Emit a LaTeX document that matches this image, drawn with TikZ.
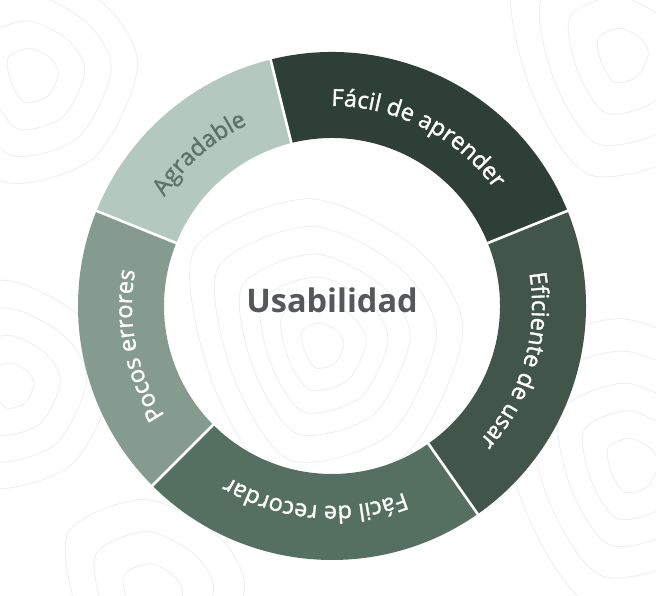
\documentclass[tikz,border=0pt]{standalone}
\usepackage{fontspec}
\setmainfont{Open Sans}
\newfontfamily\lblfont[FakeBold=1.4]{Open Sans}
\usetikzlibrary{decorations.text}
\definecolor{segA}{HTML}{2D3F36}
\definecolor{segB}{HTML}{41554A}
\definecolor{segC}{HTML}{557060}
\definecolor{segD}{HTML}{869B90}
\definecolor{segE}{HTML}{B3C8BE}
\definecolor{agtext}{HTML}{5B7565}
\definecolor{centertext}{HTML}{55585A}
\definecolor{contourcol}{HTML}{EEEEEE}
\newcommand{\ringsector}[3]{%
  \fill[#3] (#1:254) arc[start angle=#1,end angle=#2,radius=254]
    -- (#2:168) arc[start angle=#2,end angle=#1,radius=168] -- cycle;}
\newcommand{\ringtext}[4]{%
  \path[decorate,decoration={text along path,text align=center,
    text={|\lblfont\fontsize{23.5}{23.5}\selectfont\color{#3}|#4}}]
    (#1:200) arc[start angle=#1,end angle=#2,radius=200];}
\newcommand{\contourfamily}[3]{%
  \foreach \s in {#3}{%
    \begin{scope}[shift={(#1,#2)},scale=\s]
      \draw[contourline] plot[smooth cycle] coordinates
        {(44,4) (30,30) (-4,46) (-40,30) (-34,-12) (-12,-44) (26,-34)};
    \end{scope}}}
\begin{document}
\begin{tikzpicture}[x=1pt,y=1pt,
  contourline/.style={draw=contourcol,line width=0.8pt},
  sep/.style={draw=white,line width=2.6pt}]
\useasboundingbox (-332,-290) rectangle (324,306);
\fill[white] (-332,-290) rectangle (324,306);
\begin{scope}
\clip (-332,-290) rectangle (324,306);
\contourfamily{-10}{-40}{0.5,1.0,1.5,2.0,2.6,3.2}
\contourfamily{-300}{230}{0.6,1.2,1.8,2.4}
\contourfamily{300}{-160}{0.6,1.2,1.8,2.5,3.2}
\contourfamily{-320}{-80}{0.5,1.1,1.7,2.3}
\contourfamily{290}{250}{0.6,1.3,2.0,2.7}
\contourfamily{-180}{-290}{0.7,1.4,2.1}
\end{scope}
\coordinate (c) at (0,0);
\ringsector{22}{104}{segA}
\ringsector{-55}{22}{segB}
\ringsector{-135}{-55}{segC}
\ringsector{158}{225}{segD}
\ringsector{104}{158}{segE}
\foreach \a/\n in {22/s1,104/s2,158/s3,225/s4,305/s5}{
  \coordinate (\n i) at (\a:166);
  \coordinate (\n o) at (\a:256);
  \draw[sep] (\n i) -- (\n o);
}
\ringtext{104}{22}{white}{Fácil de aprender}
\ringtext{22}{-55}{white}{Eficiente de usar}
\ringtext{-55}{-135}{white}{Fácil de recordar}
\ringtext{225}{158}{white}{Pocos errores}
\ringtext{158}{104}{agtext}{Agradable}
\node[anchor=base,text=centertext,font=\fontsize{32.5}{32.5}\selectfont\bfseries,inner sep=0pt] (center) at (0,-7) {Usabilidad};
\end{tikzpicture}
\end{document}
